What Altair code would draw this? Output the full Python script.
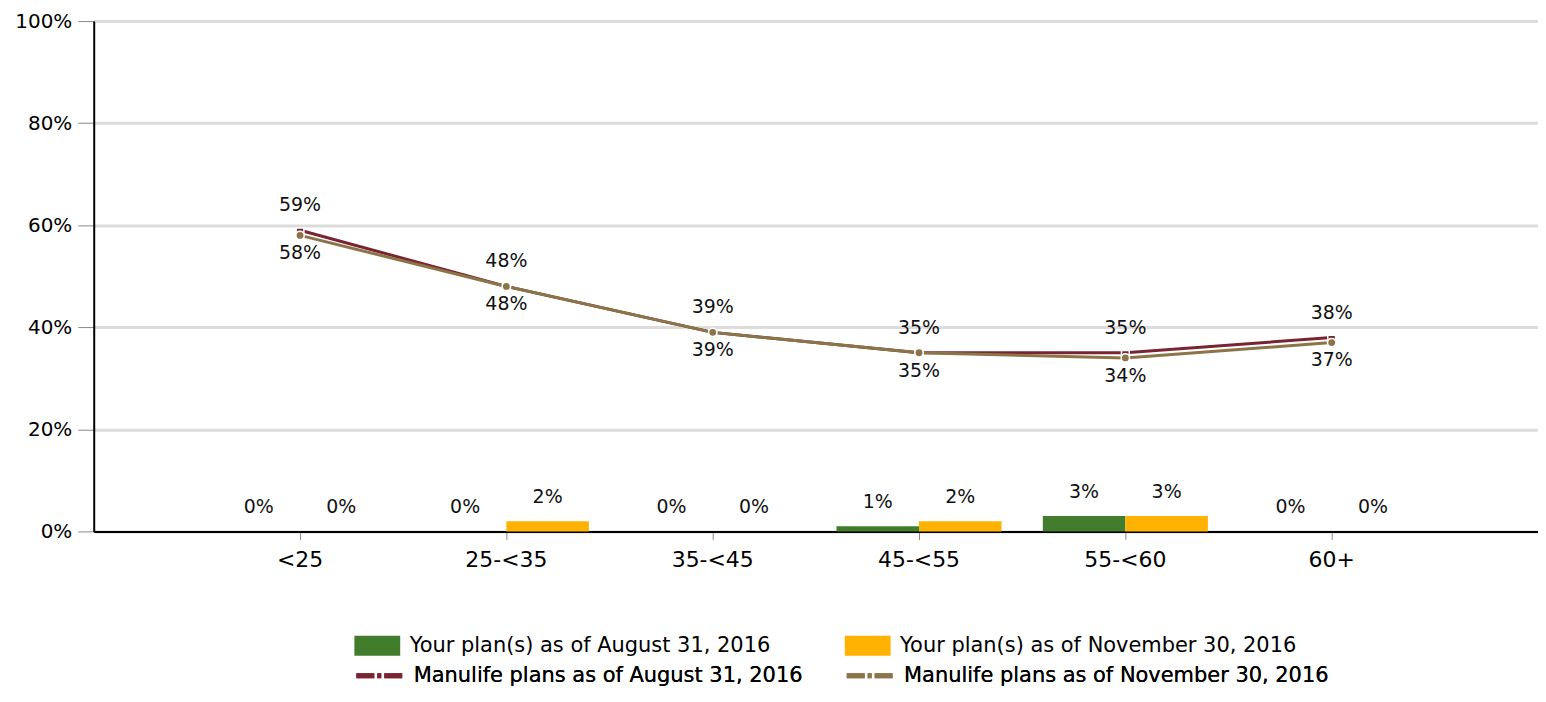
import altair as alt
import pandas as pd

categories = ["<25", "25-<35", "35-<45", "45-<55", "55-<60", "60+"]
series_names = [
    "Your plan(s) as of August 31, 2016",
    "Your plan(s) as of November 30, 2016",
    "Manulife plans as of August 31, 2016",
    "Manulife plans as of November 30, 2016",
]
your_aug = [0, 0, 0, 1, 3, 0]
your_nov = [0, 2, 0, 2, 3, 0]
manu_aug = [59, 48, 39, 35, 35, 38]
manu_nov = [58, 48, 39, 35, 34, 37]
colors = ["#417D2D", "#FFB300", "#7A2432", "#8C7449"]
y_ticks = [0, 20, 40, 60, 80, 100]

rows = []
for name, vals in zip(series_names, [your_aug, your_nov, manu_aug, manu_nov]):
    for c, v in zip(categories, vals):
        rows.append({"cat": c, "series": name, "value": v, "label": f"{v}%"})
df = pd.DataFrame(rows)

FONT = "DejaVu Sans"
bar_series = series_names[:2]
line_series = series_names[2:]

x_enc = alt.X(
    "cat:N",
    sort=categories,
    scale=alt.Scale(domain=categories, paddingInner=0, paddingOuter=0.5),
    axis=alt.Axis(
        title=None, labelAngle=0, labelFont=FONT, labelFontSize=22, labelColor="#000",
        domainColor="#000", domainWidth=2, tickColor="#888", tickSize=8, tickWidth=1,
        labelPadding=10, grid=False, bandPosition=0.5,
    ),
)
y_enc = alt.Y(
    "value:Q",
    scale=alt.Scale(domain=[0, 100], nice=False),
    axis=alt.Axis(
        title=None, values=y_ticks, labelExpr="datum.value + '%'", labelFont=FONT,
        labelFontSize=20, labelColor="#000", domainColor="#000", domainWidth=2,
        tickColor="#888", tickSize=16, tickWidth=1, labelPadding=6,
        grid=True, gridColor="#DCDCDC", gridWidth=3,
    ),
)

bar_legend = alt.Legend(
    title=None, orient="none", legendX=274, legendY=616, direction="horizontal",
    columns=2, symbolType="M-2.3,-1H2.3V1H-2.3Z", symbolSize=400,
    symbolStrokeWidth=0, symbolOpacity=1, labelFont=FONT, labelFontSize=21,
    labelColor="#000", labelOffset=22, columnPadding=74, labelLimit=0,
)
line_legend = alt.Legend(
    title=None, orient="none", legendX=274, legendY=644, direction="horizontal",
    columns=2, symbolType="M-2.3,0H-0.5M-0.2,0H0.2M0.5,0H2.3", symbolSize=400,
    symbolStrokeWidth=5, symbolFillColor="transparent", symbolOpacity=1,
    labelFont=FONT, labelFontSize=21, labelColor="#000", labelOffset=22,
    columnPadding=33, labelLimit=0,
)

fill_enc = alt.Fill("series:N", scale=alt.Scale(domain=bar_series, range=colors[:2]),
                    legend=bar_legend)
stroke_enc = alt.Stroke("series:N", scale=alt.Scale(domain=line_series, range=colors[2:]),
                        legend=line_legend)

base = alt.Chart(df)
xoff = alt.XOffset("series:N", sort=bar_series,
                   scale=alt.Scale(domain=bar_series, paddingInner=0, paddingOuter=0.25))

bar_data = base.transform_filter(alt.FieldOneOfPredicate(field="series", oneOf=bar_series))
bars = bar_data.mark_bar().encode(x=x_enc, y=y_enc, xOffset=xoff, fill=fill_enc)
bar_text = bar_data.mark_text(font=FONT, fontSize=19, color="#111", baseline="middle",
                              dy=-24).encode(x=x_enc, y=y_enc, xOffset=xoff, text="label:N")


def line_layers(name, color, shape, size, dy):
    d = base.transform_filter(alt.datum.series == name)
    ln = d.mark_line(strokeWidth=3).encode(x=x_enc, y=y_enc, stroke=stroke_enc)
    pt = d.mark_point(filled=True, shape=shape, size=size, fill=color, stroke="white",
                      strokeWidth=1.5, opacity=1).encode(x=x_enc, y=y_enc)
    tx = d.mark_text(font=FONT, fontSize=19, color="#111", baseline="middle", dy=dy).encode(
        x=x_enc, y=y_enc, text="label:N")
    return [ln, pt, tx]


aug_layers = line_layers(series_names[2], colors[2], "M-1,-0.6H1V0.6H-1Z", 60, -25)
nov_layers = line_layers(series_names[3], colors[3], "circle", 70, 18)

chart = alt.layer(
    bars, bar_text, aug_layers[0], nov_layers[0], aug_layers[1], nov_layers[1],
    aug_layers[2], nov_layers[2]
).resolve_scale(fill="independent", stroke="independent").properties(
    width=1449, height=512,
    autosize=alt.AutoSizeParams(type="none"),
    padding={"left": 86, "top": 12, "right": 0, "bottom": 154},
).configure_view(stroke=None)

chart.save("out.html", embed_options={"renderer": "svg", "actions": False})
